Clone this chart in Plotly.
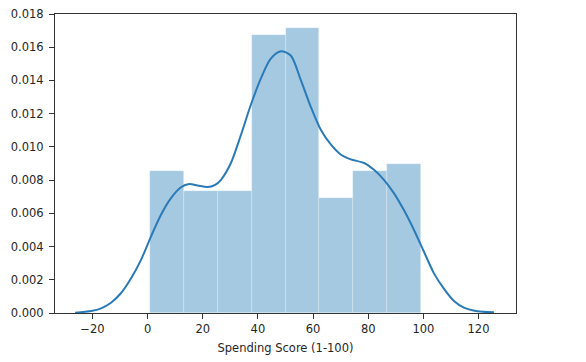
import plotly.graph_objects as go

# Histogram bins (Spending Score 1-100) and counts (n = 200)
bin_edges = [1, 13.25, 25.5, 37.75, 50, 62.25, 74.5, 86.75, 99]
bin_counts = [21, 18, 18, 41, 42, 17, 21, 22]
n_total = 200

# KDE curve points
kde_x = [-26.3, -20.5, -16.9, -13.3, -9.7, -6.0, -2.4, 1.2, 4.8, 8.4, 12.1, 15.1, 18.1,
         21.7, 24.5, 26.6, 30.2, 33.8, 37.4, 41.0, 44.6, 48.3, 51.9, 55.5, 59.1, 62.8,
         66.5, 70.1, 73.7, 78.5, 82.1, 85.7, 89.3, 92.9, 96.6, 100.2, 103.8, 107.5, 111.1,
         114.7, 119.6, 125.6]
kde_y = [0.00002, 0.00012, 0.00028, 0.00062, 0.00119, 0.00209, 0.0032, 0.0046, 0.0059,
         0.0069, 0.00757, 0.00776, 0.00768, 0.00758, 0.00772, 0.00802, 0.00903, 0.01070,
         0.01252, 0.01410, 0.01530, 0.01576, 0.01550, 0.01405, 0.01244, 0.01103, 0.01013,
         0.00953, 0.00925, 0.00903, 0.00862, 0.00802, 0.00722, 0.00621, 0.0050, 0.0037,
         0.0024, 0.00145, 0.00072, 0.00032, 0.00010, 0.00004]

x_ticks = [-20, 0, 20, 40, 60, 80, 100, 120]
y_ticks = [0.000, 0.002, 0.004, 0.006, 0.008, 0.010, 0.012, 0.014, 0.016, 0.018]

centers = [(a + b) / 2 for a, b in zip(bin_edges[:-1], bin_edges[1:])]
widths = [b - a for a, b in zip(bin_edges[:-1], bin_edges[1:])]
density = [c / (n_total * w) for c, w in zip(bin_counts, widths)]

fig = go.Figure()
fig.add_trace(go.Bar(
    x=centers, y=density, width=widths,
    marker=dict(color="rgba(31,119,180,0.4)", line=dict(color="rgba(255,255,255,0.5)", width=0.6)),
    showlegend=False, hoverinfo="skip",
))
fig.add_trace(go.Scatter(
    x=kde_x, y=kde_y, mode="lines",
    line=dict(color="#2a7ab8", width=2, shape="spline", smoothing=0.8),
    showlegend=False,
))

FONT = dict(family="DejaVu Sans", size=11.5, color="#262626")

axis_common = dict(
    showline=True, mirror=True, linecolor="#333333", linewidth=1,
    ticks="outside", ticklen=5, tickwidth=1, tickcolor="#333333",
    showgrid=False, zeroline=False, automargin=False,
    tickfont=FONT,
)

fig.update_layout(
    width=586, height=362,
    margin=dict(l=55, r=70, t=14, b=49),
    paper_bgcolor="white", plot_bgcolor="white",
    bargap=0,
    xaxis=dict(range=[-33.6, 133.6], tickvals=x_ticks,
               ticktext=[str(v).replace("-", "\u2212") for v in x_ticks],
               title=dict(text="Spending Score (1-100)", font=FONT, standoff=9),
               **axis_common),
    yaxis=dict(range=[0, 0.018], tickvals=y_ticks, ticktext=[f"{v:.3f}" for v in y_ticks],
               ticklabelstandoff=3, **axis_common),
)

# remove the browser's default page margin so the figure fills the window exactly
fig.write_html(
    "out.html",
    config={"displayModeBar": False},
    post_script="document.body.style.margin='0';document.body.style.overflow='hidden';",
)
